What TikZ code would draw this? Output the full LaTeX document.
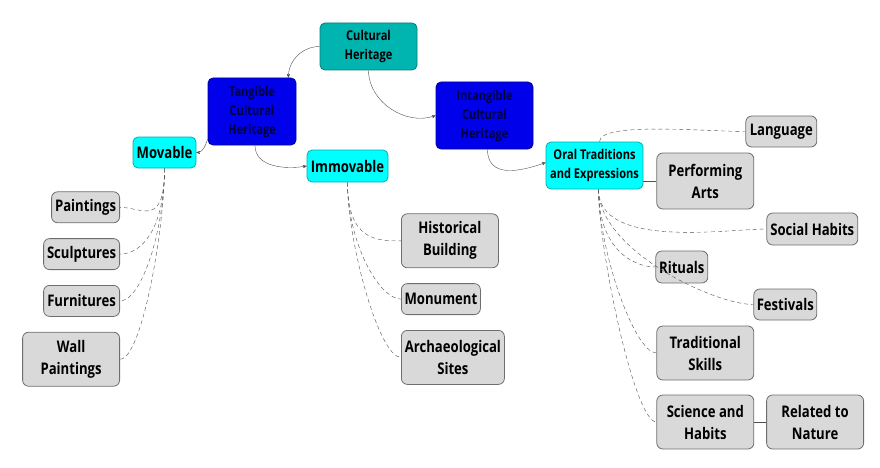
\documentclass[tikz,border=0pt]{standalone}
\usepackage{fontspec}
\setmainfont{Open Sans}[FakeStretch=0.82]
\usepackage{tikz}
\usetikzlibrary{positioning}
\usetikzlibrary{arrows}
\definecolor{rootteal}{RGB}{0,180,176}
\definecolor{rootedge}{RGB}{0,125,120}
\definecolor{heritblue}{RGB}{0,0,235}
\definecolor{heritedge}{RGB}{0,0,160}
\definecolor{herittext}{RGB}{0,0,60}
\definecolor{subcyan}{RGB}{0,255,255}
\definecolor{subedge}{RGB}{0,175,175}
\definecolor{leafgray}{RGB}{217,217,217}
\definecolor{leafedge}{RGB}{110,110,110}
\definecolor{linkgray}{RGB}{80,80,80}
\tikzset{root node/.style={rectangle,rounded corners=5pt,fill=rootteal,draw=rootedge,line width=0.8pt,font=\fontsize{13.5}{19}\selectfont\bfseries},
	herit node/.style={rectangle,rounded corners=5pt,fill=heritblue,draw=heritedge,line width=0.8pt,text=herittext,font=\fontsize{13.5}{19}\selectfont\bfseries},
	sub node/.style={rectangle,rounded corners=5pt,fill=subcyan,draw=subedge,line width=0.8pt,font=\fontsize{16}{21}\selectfont\bfseries},
	leaf node/.style={rectangle,rounded corners=6pt,fill=leafgray,draw=leafedge,line width=0.8pt,font=\fontsize{16}{22}\selectfont\bfseries},
	branch/.style={draw=linkgray,thin,->},
	twig/.style={draw=linkgray,thin,-,dash pattern=on 4pt off 3pt,out=-90,out distance=60pt,in distance=22pt},}

\begin{document}
\begin{tikzpicture}[>=stealth', every node/.append style={align=center,inner sep=0pt}]
	\useasboundingbox (0,0) rectangle (880pt,-468pt);
	\node[root node, minimum width=97pt, minimum height=47pt] (ch) at (368.5pt,-46.5pt) {Cultural\\Heritage};
	\node[herit node, minimum width=88pt, minimum height=67pt] (tang) [on grid, below left=65pt and 116.5pt of ch] {Tangible\\Cultural\\Heritage};
	\node[herit node, minimum width=97pt, minimum height=67pt] (intang) [on grid, below right=69pt and 116pt of ch] {Intangible\\Cultural\\Heritage};
	\node[sub node, minimum width=63pt, minimum height=31pt] (mov) [on grid, below left=41pt and 87.5pt of tang] {Movable};
	\node[sub node, minimum width=81pt, minimum height=32pt] (immov) [on grid, below right=54.5pt and 95.5pt of tang] {Immovable};
	\node[sub node, minimum width=97pt, minimum height=47pt, font=\fontsize{13.5}{19}\selectfont\bfseries] (oral) [on grid, below right=50pt and 110pt of intang] {Oral Traditions\\and Expressions};

	% movable heritage
	\node[leaf node, minimum width=68pt, minimum height=31pt] (paint) [below left=23pt and 44.5pt of mov.south] {Paintings};
	\node[leaf node, minimum width=76pt, minimum height=31pt] (sculp) [below=15pt of paint.south east, anchor=north east] {Sculptures};
	\node[leaf node, minimum width=76pt, minimum height=31pt] (furn) [below=15pt of sculp.south east, anchor=north east] {Furnitures};
	\node[leaf node, minimum width=97pt, minimum height=54pt] (wall) [below=15pt of furn.south east, anchor=north east] {Wall\\Paintings};

	% immovable heritage
	\node[leaf node, minimum width=97pt, minimum height=54pt] (hist) [below right=31pt and 53.5pt of immov.south] {Historical\\Building};
	\node[leaf node, minimum width=79pt, minimum height=31pt] (monu) [below=15pt of hist.south west, anchor=north west] {Monument};
	\node[leaf node, minimum width=103pt, minimum height=54pt] (arch) [below=15pt of monu.south west, anchor=north west] {Archaeological\\Sites};

	% intangible heritage
	\node[leaf node, minimum width=71pt, minimum height=31pt] (lang) [above right=34pt and 102pt of oral.east, anchor=west] {Language};
	\node[leaf node, minimum width=97pt, minimum height=56pt] (perf) [below right=15.5pt and 13pt of oral.east, anchor=west] {Performing\\Arts};
	\node[leaf node, minimum width=91pt, minimum height=32pt] (social) [below right=63.5pt and 123pt of oral.east, anchor=west] {Social Habits};
	\node[leaf node, minimum width=52pt, minimum height=32pt] (rit) [below right=101.5pt and 12pt of oral.east, anchor=west] {Rituals};
	\node[leaf node, minimum width=63pt, minimum height=31pt] (fest) [below right=139pt and 110pt of oral.east, anchor=west] {Festivals};
	\node[leaf node, minimum width=97pt, minimum height=54pt] (trad) [below right=187.5pt and 13pt of oral.east, anchor=west] {Traditional\\Skills};
	\node[leaf node, minimum width=97pt, minimum height=54pt] (sci) [below right=256.5pt and 13pt of oral.east, anchor=west] {Science and\\Habits};
	\node[leaf node, minimum width=97pt, minimum height=54pt] (nature) [right=12pt of sci] {Related to\\Nature};

	\path
	(ch.west) edge [branch, out=180, in=90] ([xshift=-8pt]tang.north east)
	(ch.south) edge [branch, out=-90, in=200] (intang.west)
	([yshift=6pt]tang.south west) edge [branch, out=-110, in=0] (mov.east)
	([xshift=3pt]tang.south) edge [branch, out=-90, in=190] (immov.west)
	([xshift=3pt]intang.south) edge [branch, out=-90, in=200, out distance=30pt, in distance=25pt] ([yshift=3pt]oral.west);

	\path
	(mov.south) edge [twig, in=0] (paint.east)
	(mov.south) edge [twig, in=0] (sculp.east)
	(mov.south) edge [twig, in=0] (furn.east)
	(mov.south) edge [twig, in=0] (wall.east)
	(immov.south) edge [twig, in=180] (hist.west)
	(immov.south) edge [twig, in=180] (monu.west)
	(immov.south) edge [twig, in=180] (arch.west)
	([xshift=5pt]oral.north) edge [twig, out=90, in=180, out distance=20pt, in distance=40pt] (lang.west)
	([xshift=4pt]oral.south) edge [twig, in=180, in distance=40pt] (social.west)
	([xshift=4pt]oral.south) edge [twig, in=180] (rit.west)
	([xshift=4pt]oral.south) edge [twig, in=180, in distance=40pt] (fest.west)
	([xshift=4pt]oral.south) edge [twig, in=180] (trad.west)
	([xshift=4pt]oral.south) edge [twig, in=180] (sci.west);

	\draw[linkgray, thin] (perf.west) -- (perf.west -| oral.east);
	\draw[linkgray, thin] (sci) -- (nature);
\end{tikzpicture}
\end{document}
